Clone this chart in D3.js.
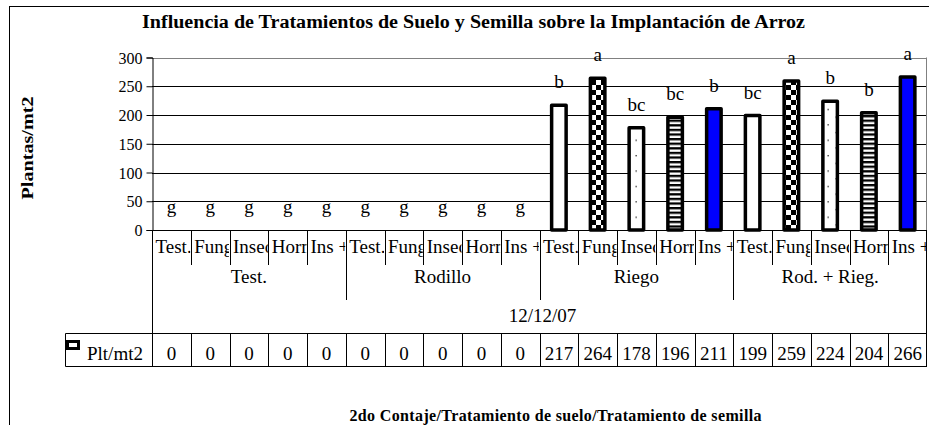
<!DOCTYPE html>
<html>
<head>
<meta charset="utf-8">
<script src="https://cdn.jsdelivr.net/npm/d3@7"></script>
<style>
  html, body { margin: 0; padding: 0; background: #fff; }
  svg { display: block; }
  text { font-family: "Liberation Serif", "Times New Roman", serif; fill: #000; }
</style>
</head>
<body>
<div id="chart"></div>
<script>
// ---------- data ----------
const title = "Influencia de Tratamientos de Suelo y  Semilla sobre la Implantación de Arroz";
const yTitle = "Plantas/mt2";
const xTitle = "2do Contaje/Tratamiento de suelo/Tratamiento de semilla";
const dateLabel = "12/12/07";
const seriesName = "Plt/mt2";
const soilGroups = ["Test.", "Rodillo", "Riego", "Rod. + Rieg."];
const seedTreatments = ["Test.", "Fungicida", "Insecticida", "Hormona", "Ins + Fung"];
const values = [0, 0, 0, 0, 0,  0, 0, 0, 0, 0,  217, 264, 178, 196, 211,  199, 259, 224, 204, 266];
const letters = ["g", "g", "g", "g", "g",  "g", "g", "g", "g", "g",  "b", "a", "bc", "bc", "b",  "bc", "a", "b", "b", "a"];
const yTicks = [0, 50, 100, 150, 200, 250, 300];

// ---------- layout ----------
const W = 929, H = 425;
const plot = { left: 152, right: 927, top: 57.5, bottom: 230 };
const rows = { sub: 253, subLineEnd: 265, group: 283, groupLineEnd: 300, date: 322, tableTop: 333.5, tableBottom: 366.5, tableLeft: 65.5 };

const rowsData = [];
soilGroups.forEach((g, gi) => seedTreatments.forEach((t, ti) => {
  const i = gi * seedTreatments.length + ti;
  rowsData.push({ i, group: g, gi, treat: t, ti, value: values[i], letter: letters[i] });
}));

const svg = d3.select("#chart").append("svg").attr("width", W).attr("height", H);

// patterns
const defs = svg.append("defs");
const pF = defs.append("pattern").attr("id", "pat-fung").attr("patternUnits", "userSpaceOnUse")
  .attr("width", 10).attr("height", 10).attr("x", 1).attr("y", 0);
pF.append("rect").attr("width", 10).attr("height", 10).attr("fill", "#fff");
pF.append("rect").attr("x", 0).attr("y", 0).attr("width", 5).attr("height", 5).attr("fill", "#000");
pF.append("rect").attr("x", 5).attr("y", 5).attr("width", 5).attr("height", 5).attr("fill", "#000");

const pH = defs.append("pattern").attr("id", "pat-horn").attr("patternUnits", "userSpaceOnUse")
  .attr("width", 4).attr("height", 4.6);
pH.append("rect").attr("width", 4).attr("height", 4.6).attr("fill", "#fff");
pH.append("rect").attr("width", 4).attr("height", 2.3).attr("fill", "#000");

const pI = defs.append("pattern").attr("id", "pat-insec").attr("patternUnits", "userSpaceOnUse")
  .attr("width", 16).attr("height", 15.4);
pI.append("rect").attr("width", 16).attr("height", 15.4).attr("fill", "#fff");
pI.append("rect").attr("x", 11.5).attr("y", 1).attr("width", 1.3).attr("height", 1.3).attr("fill", "#222");
pI.append("rect").attr("x", 3.5).attr("y", 8.7).attr("width", 1.3).attr("height", 1.3).attr("fill", "#222");

const fills = ["#ffffff", "url(#pat-fung)", "url(#pat-insec)", "url(#pat-horn)", "#0000ff"];

// scales
const x = d3.scaleBand().domain(d3.range(values.length)).range([plot.left, plot.right]).padding(0);
const y = d3.scaleLinear().domain([0, 300]).range([plot.bottom, plot.top]);
const nT = seedTreatments.length;

// outer chart frame
svg.append("line").attr("x1", 9.5).attr("x2", 9.5).attr("y1", 6).attr("y2", H).attr("stroke", "#000");
svg.append("line").attr("x1", 9).attr("x2", W).attr("y1", 6.5).attr("y2", 6.5).attr("stroke", "#000");

// title
svg.append("text").attr("x", 473.5).attr("y", 28).attr("text-anchor", "middle")
  .attr("font-size", 18).attr("font-weight", "bold")
  .attr("textLength", 663).attr("lengthAdjust", "spacingAndGlyphs").text(title);

// gridlines
svg.append("g").selectAll("line").data(yTicks.filter(t => t > 0)).join("line")
  .attr("x1", plot.left).attr("x2", plot.right)
  .attr("y1", d => Math.round(y(d)) + 0.5).attr("y2", d => Math.round(y(d)) + 0.5)
  .attr("stroke", d => d === 300 ? "#808080" : "#000");
// plot right border
svg.append("line").attr("x1", plot.right - 0.5).attr("x2", plot.right - 0.5)
  .attr("y1", plot.top).attr("y2", plot.bottom).attr("stroke", "#808080");

// y axis
const yAxis = d3.axisLeft(y).tickValues(yTicks).tickSize(6).tickPadding(4);
const gy = svg.append("g").attr("transform", `translate(${plot.left + 0.5},0)`).call(yAxis);
gy.select(".domain").attr("stroke", "#000");
gy.selectAll(".tick line").attr("stroke", "#000");
gy.selectAll(".tick text").attr("font-family", "Liberation Serif").attr("font-size", 16).attr("fill", "#000")
  .attr("dy", "0.35em");

// y title
svg.append("text").attr("transform", "translate(32.5,148) rotate(-90)").attr("text-anchor", "middle")
  .attr("font-size", 17).attr("font-weight", "bold")
  .attr("textLength", 103).attr("lengthAdjust", "spacingAndGlyphs").text(yTitle);

// bars
svg.append("g").selectAll("rect").data(rowsData.filter(d => d.value > 0)).join("rect")
  .attr("x", d => x(d.i) + x.bandwidth() / 2 - 7.25)
  .attr("width", 14.5)
  .attr("y", d => y(d.value))
  .attr("height", d => y(0) - y(d.value))
  .attr("fill", d => fills[d.ti])
  .attr("stroke", "#000").attr("stroke-width", 3.5).attr("stroke-linejoin", "round");

// x axis line
svg.append("line").attr("x1", plot.left).attr("x2", plot.right).attr("y1", plot.bottom + 0.5).attr("y2", plot.bottom + 0.5).attr("stroke", "#000");

// significance letters
svg.append("g").selectAll("text").data(rowsData).join("text")
  .attr("x", d => x(d.i) + x.bandwidth() / 2)
  .attr("y", d => y(d.value) - 17)
  .attr("text-anchor", "middle").attr("font-size", 19).text(d => d.letter);

// category dividers (sub row)
const bounds = d3.range(values.length + 1).map(k => k < values.length ? x(k) : plot.right);
svg.append("g").selectAll("line").data(bounds.slice(1, -1)).join("line")
  .attr("x1", d => Math.round(d) + 0.5).attr("x2", d => Math.round(d) + 0.5)
  .attr("y1", plot.bottom).attr("y2", rows.subLineEnd).attr("stroke", "#000");
// group dividers
svg.append("g").selectAll("line").data(d3.range(1, soilGroups.length)).join("line")
  .attr("x1", k => Math.round(x(k * nT)) + 0.5).attr("x2", k => Math.round(x(k * nT)) + 0.5)
  .attr("y1", plot.bottom).attr("y2", rows.groupLineEnd).attr("stroke", "#000");
// left/right borders of axis area
svg.append("line").attr("x1", plot.left + 0.5).attr("x2", plot.left + 0.5).attr("y1", plot.bottom).attr("y2", rows.tableBottom).attr("stroke", "#000");
svg.append("line").attr("x1", plot.right - 0.5).attr("x2", plot.right - 0.5).attr("y1", plot.bottom).attr("y2", rows.tableBottom).attr("stroke", "#000");

// sub labels (clipped to cells)
const clips = defs.selectAll("clipPath.cell").data(rowsData).join("clipPath")
  .attr("class", "cell").attr("id", d => "clip" + d.i);
clips.append("rect").attr("x", d => x(d.i) + 1).attr("y", plot.bottom).attr("width", x.bandwidth() - 1.5).attr("height", 40);
svg.append("g").selectAll("text").data(rowsData).join("text")
  .attr("clip-path", d => `url(#clip${d.i})`)
  .attr("x", d => x(d.i) + 3.5).attr("y", rows.sub)
  .attr("font-size", 19).text(d => d.treat);

// group labels
svg.append("g").selectAll("text").data(soilGroups).join("text")
  .attr("x", (g, k) => (x(k * nT) + (k + 1 < soilGroups.length ? x((k + 1) * nT) : plot.right)) / 2)
  .attr("y", rows.group).attr("text-anchor", "middle").attr("font-size", 19).text(g => g);

// date label
svg.append("text").attr("x", (plot.left + plot.right) / 2 + 3).attr("y", rows.date)
  .attr("text-anchor", "middle").attr("font-size", 19).text(dateLabel);

// data table
svg.append("line").attr("x1", rows.tableLeft).attr("x2", plot.right).attr("y1", rows.tableTop).attr("y2", rows.tableTop).attr("stroke", "#000");
svg.append("line").attr("x1", rows.tableLeft).attr("x2", plot.right).attr("y1", rows.tableBottom).attr("y2", rows.tableBottom).attr("stroke", "#000");
svg.append("line").attr("x1", rows.tableLeft).attr("x2", rows.tableLeft).attr("y1", rows.tableTop).attr("y2", rows.tableBottom).attr("stroke", "#000");
svg.append("g").selectAll("line").data(bounds.slice(1, -1)).join("line")
  .attr("x1", d => Math.round(d) + 0.5).attr("x2", d => Math.round(d) + 0.5)
  .attr("y1", rows.tableTop).attr("y2", rows.tableBottom).attr("stroke", "#000");
svg.append("g").selectAll("text").data(rowsData).join("text")
  .attr("x", d => x(d.i) + x.bandwidth() / 2).attr("y", 360)
  .attr("text-anchor", "middle").attr("font-size", 19).text(d => d.value);
// legend key
svg.append("rect").attr("x", 67.5).attr("y", 341.5).attr("width", 11).attr("height", 7)
  .attr("fill", "#fff").attr("stroke", "#000").attr("stroke-width", 3);
svg.append("text").attr("x", 87).attr("y", 360).attr("font-size", 19).text(seriesName);

// x title
svg.append("text").attr("x", 555.5).attr("y", 421).attr("text-anchor", "middle")
  .attr("font-size", 16).attr("font-weight", "bold")
  .attr("textLength", 412).attr("lengthAdjust", "spacing").text(xTitle);
</script>
</body>
</html>
